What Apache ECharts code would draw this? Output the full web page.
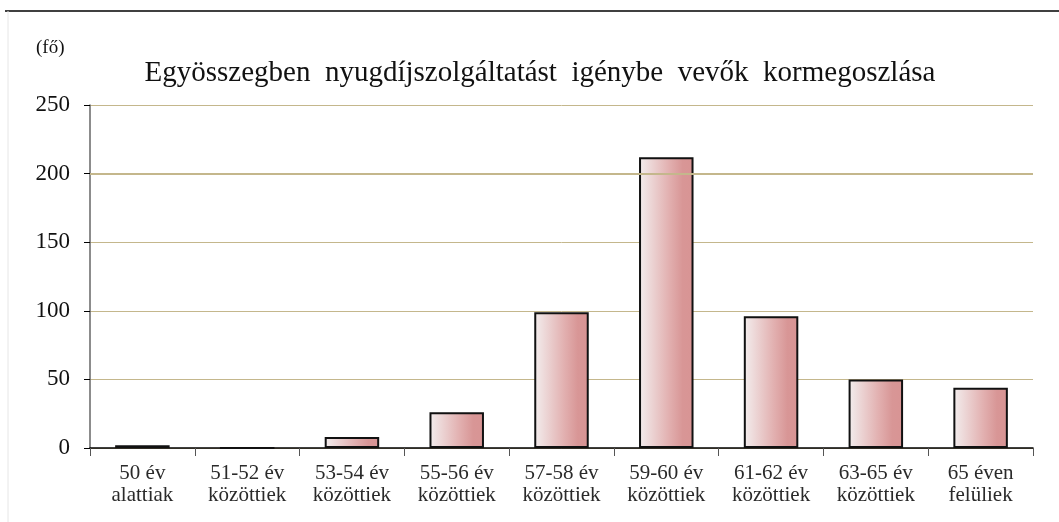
<!DOCTYPE html>
<html><head><meta charset="utf-8">
<script src="https://cdn.jsdelivr.net/npm/echarts@6/dist/echarts.min.js"></script>
<style>html,body{margin:0;padding:0;background:#fff}#c{width:1059px;height:522px}</style>
</head><body><div id="c"></div>
<script>
const categories = ['50 év\nalattiak','51-52 év\nközöttiek','53-54 év\nközöttiek','55-56 év\nközöttiek','57-58 év\nközöttiek','59-60 év\nközöttiek','61-62 év\nközöttiek','63-65 év\nközöttiek','65 éven\nfelüliek'];
const values = [2, 0, 8, 26, 99, 212, 96, 50, 44];
const yTicks = [0, 50, 100, 150, 200, 250];
const titleText = 'Egyösszegben  nyugdíjszolgáltatást  igénybe  vevők  kormegoszlása';
const unitText = '(fő)';

const chart = echarts.init(document.getElementById('c'), null, {renderer:'canvas'});
const serif = '"Liberation Serif", "DejaVu Serif", serif';
chart.setOption({
  animation:false,
  backgroundColor:'#fff',
  title:{text:titleText, left:535, top:54, textAlign:'center',
    textStyle:{fontFamily:serif, fontSize:29, fontWeight:'normal', color:'#111'}},
  graphic:[
    {type:'line', shape:{x1:5,y1:11,x2:1059,y2:11}, style:{stroke:'#000', lineWidth:1.5}},
    {type:'line', shape:{x1:8,y1:11,x2:8,y2:522}, style:{stroke:'#e6e6e6', lineWidth:1}},
    {type:'text', left:36, top:39, style:{text:unitText, font:'19px '+serif, fill:'#111'}}
  ],
  grid:{left:90, right:26, top:105, bottom:74},
  xAxis:{type:'category', data:categories,
    axisLine:{lineStyle:{color:'#000', width:1.5}},
    axisTick:{show:true, alignWithLabel:false, length:8, lineStyle:{color:'#555'}},
    axisLabel:{fontFamily:serif, fontSize:21, color:'#2a2a2a', lineHeight:22, margin:14, interval:0}},
  yAxis:{type:'value', min:0, max:250, interval:50,
    axisLine:{show:true, lineStyle:{color:'#666', width:1.5}},
    axisTick:{show:true, inside:false, length:6, lineStyle:{color:'#000'}},
    axisLabel:{fontFamily:serif, fontSize:23, color:'#111', margin:20,
      formatter:v=>yTicks.includes(v)?String(v):''},
    splitLine:{lineStyle:{color:'#c4b78c', width:1}}},
  series:[{type:'bar', data:values, barWidth:'52%',
    itemStyle:{borderColor:'#111', borderWidth:2,
      color:new echarts.graphic.LinearGradient(0,0,1,0,[
        {offset:0,color:'#f3eeee'},{offset:0.55,color:'#e2b0b0'},{offset:0.8,color:'#d89696'},{offset:1,color:'#d89494'}])},
    markLine:{silent:true, symbol:'none', label:{show:false},
      lineStyle:{color:'#c4b78c', width:2, type:'solid'}, data:[{yAxis:200}]},
    z:3}]
});
</script></body></html>
